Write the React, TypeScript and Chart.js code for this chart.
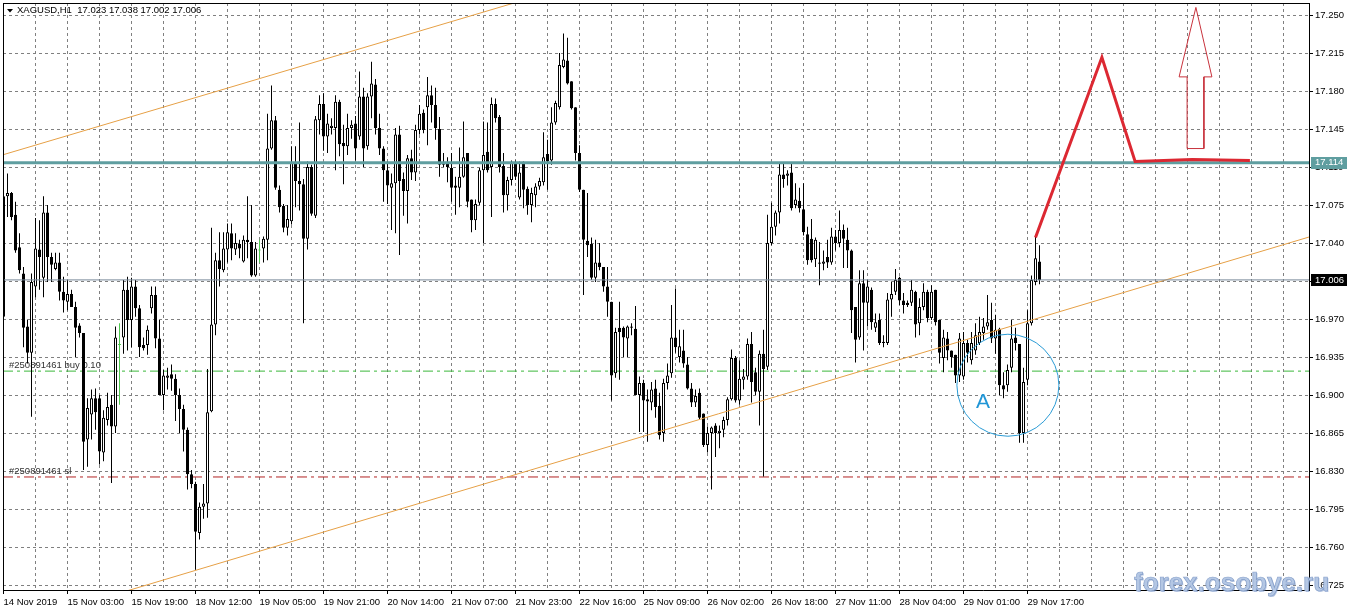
import React, { useEffect, useRef } from 'react';
import { Chart, registerables } from 'chart.js';

Chart.register(...registerables);

// ---------- data ----------
const symbol = 'XAGUSD';
const timeframe = 'H1';

const xLabels = [
  '14 Nov 2019', '15 Nov 03:00', '15 Nov 19:00', '18 Nov 12:00', '19 Nov 05:00',
  '19 Nov 21:00', '20 Nov 14:00', '21 Nov 07:00', '21 Nov 23:00', '22 Nov 16:00',
  '25 Nov 09:00', '26 Nov 02:00', '26 Nov 18:00', '27 Nov 11:00', '28 Nov 04:00',
  '29 Nov 01:00', '29 Nov 17:00',
];

const yTicks = [
  17.25, 17.215, 17.18, 17.145, 17.11, 17.075, 17.04, 17.005,
  16.97, 16.935, 16.9, 16.865, 16.83, 16.795, 16.76, 16.725,
];

const opens = [
  16.972, 17.083, 17.086, 17.066, 17.036, 17.012, 16.963, 16.939, 17.000, 17.034,
  17.008, 17.068, 17.027, 17.016, 17.022, 16.995, 16.986, 16.993, 16.981, 16.964,
  16.957, 16.859, 16.882, 16.897, 16.897, 16.847, 16.877, 16.891, 16.871, 16.946,
  16.953, 16.997, 16.969, 17.000, 16.980, 16.946, 16.946, 16.980, 16.992, 16.952,
  16.900, 16.916, 16.919, 16.915, 16.900, 16.887, 16.868, 16.827, 16.818, 16.773,
  16.797, 16.800, 16.885, 16.965, 17.024, 17.015, 17.034, 17.049, 17.034, 17.039,
  17.023, 17.043, 17.041, 17.010, 17.033, 17.035, 17.043, 17.127, 17.153, 17.089,
  17.074, 17.054, 17.060, 17.114, 17.097, 17.094, 17.044, 17.110, 17.065, 17.153,
  17.168, 17.138, 17.146, 17.146, 17.170, 17.132, 17.129, 17.146, 17.150, 17.138,
  17.175, 17.129, 17.175, 17.186, 17.146, 17.127, 17.107, 17.091, 17.095, 17.140,
  17.099, 17.088, 17.118, 17.105, 17.144, 17.160, 17.165, 17.176, 17.167, 17.145,
  17.114, 17.114, 17.109, 17.093, 17.091, 17.101, 17.123, 17.080, 17.061, 17.077,
  17.107, 17.124, 17.110, 17.168, 17.156, 17.111, 17.084, 17.098, 17.114, 17.082,
  17.114, 17.090, 17.075, 17.084, 17.092, 17.096, 17.122, 17.116, 17.151, 17.165,
  17.202, 17.208, 17.189, 17.165, 17.123, 17.089, 17.042, 17.039, 17.008, 17.022,
  17.018, 17.000, 16.986, 16.920, 16.962, 16.962, 16.952, 16.963, 16.961, 16.900,
  16.911, 16.896, 16.893, 16.906, 16.890, 16.865, 16.911, 16.920, 16.953, 16.935,
  16.941, 16.928, 16.906, 16.893, 16.902, 16.883, 16.854, 16.865, 16.872, 16.865,
  16.868, 16.877, 16.896, 16.934, 16.895, 16.914, 16.917, 16.947, 16.921, 16.903,
  16.938, 16.926, 17.040, 17.055, 17.068, 17.103, 17.102, 17.105, 17.075, 17.079,
  17.071, 17.048, 17.044, 17.025, 17.022, 17.021, 17.027, 17.022, 17.046, 17.040,
  17.052, 17.043, 17.033, 16.981, 16.953, 17.003, 16.985, 16.997, 16.962, 16.969,
  16.949, 16.948, 16.988, 16.995, 17.008, 16.987, 16.985, 16.985, 16.995, 16.966,
  16.981, 16.995, 16.971, 16.997, 16.969, 16.934, 16.952, 16.941, 16.937, 16.918,
  16.917, 16.948, 16.932, 16.941, 16.948, 16.957, 16.963, 16.969, 16.952, 16.961,
  16.909, 16.909, 16.925, 16.953, 16.947, 16.865, 16.914, 16.966, 17.004, 17.023,
];

const highs = [
  17.104, 17.104, 17.087, 17.078, 17.049, 17.018, 16.969, 17.012, 17.063, 17.061,
  17.083, 17.075, 17.031, 17.031, 17.031, 17.009, 17.006, 16.997, 16.986, 16.966,
  16.957, 16.897, 16.905, 16.906, 16.900, 16.886, 16.902, 16.900, 16.963, 16.966,
  17.006, 17.009, 17.008, 17.006, 16.983, 16.953, 16.964, 17.000, 17.000, 16.969,
  16.923, 16.925, 16.928, 16.919, 16.906, 16.891, 16.870, 16.831, 16.820, 16.801,
  16.818, 16.924, 17.054, 17.031, 17.050, 17.050, 17.058, 17.058, 17.049, 17.043,
  17.047, 17.083, 17.075, 17.041, 17.043, 17.046, 17.159, 17.185, 17.157, 17.093,
  17.076, 17.075, 17.129, 17.129, 17.151, 17.099, 17.115, 17.112, 17.157, 17.176,
  17.178, 17.159, 17.155, 17.176, 17.172, 17.149, 17.159, 17.153, 17.157, 17.198,
  17.183, 17.178, 17.207, 17.191, 17.159, 17.129, 17.115, 17.104, 17.146, 17.148,
  17.105, 17.121, 17.126, 17.149, 17.167, 17.163, 17.193, 17.185, 17.183, 17.156,
  17.123, 17.119, 17.123, 17.101, 17.128, 17.152, 17.123, 17.080, 17.080, 17.109,
  17.152, 17.151, 17.174, 17.173, 17.158, 17.123, 17.101, 17.116, 17.116, 17.115,
  17.115, 17.092, 17.091, 17.095, 17.100, 17.142, 17.135, 17.165, 17.171, 17.215,
  17.233, 17.229, 17.189, 17.165, 17.130, 17.089, 17.086, 17.045, 17.043, 17.040,
  17.018, 17.018, 16.986, 16.962, 16.986, 16.963, 16.964, 16.966, 16.982, 16.917,
  16.914, 16.905, 16.912, 16.914, 16.902, 16.915, 16.929, 16.983, 16.998, 16.960,
  16.960, 16.935, 16.911, 16.905, 16.906, 16.883, 16.871, 16.871, 16.874, 16.872,
  16.880, 16.898, 16.942, 16.936, 16.932, 16.924, 16.952, 16.958, 16.925, 16.941,
  16.960, 17.066, 17.077, 17.070, 17.114, 17.114, 17.107, 17.114, 17.095, 17.091,
  17.095, 17.055, 17.062, 17.045, 17.041, 17.033, 17.043, 17.054, 17.052, 17.070,
  17.057, 17.054, 17.034, 16.981, 17.015, 17.015, 17.006, 16.999, 16.975, 16.975,
  16.955, 16.994, 17.004, 17.016, 17.009, 16.994, 16.987, 17.006, 16.996, 16.989,
  17.003, 16.997, 17.001, 16.997, 16.969, 16.960, 16.958, 16.941, 16.937, 16.957,
  16.958, 16.951, 16.958, 16.966, 16.972, 16.971, 16.992, 16.985, 16.974, 16.962,
  16.921, 16.928, 16.969, 16.962, 16.947, 16.925, 16.978, 17.010, 17.046, 17.038,
];

const lows = [
  16.969, 17.064, 17.061, 17.031, 17.012, 16.944, 16.929, 16.880, 16.990, 16.997,
  16.990, 17.004, 17.004, 17.015, 16.987, 16.976, 16.978, 16.981, 16.935, 16.953,
  16.831, 16.834, 16.859, 16.868, 16.836, 16.839, 16.872, 16.819, 16.865, 16.891,
  16.938, 16.941, 16.944, 16.972, 16.935, 16.941, 16.937, 16.975, 16.943, 16.900,
  16.886, 16.905, 16.904, 16.876, 16.865, 16.848, 16.813, 16.814, 16.739, 16.767,
  16.786, 16.787, 16.884, 16.955, 17.000, 17.013, 17.022, 17.024, 17.029, 17.026,
  17.022, 17.026, 17.009, 17.009, 17.022, 17.022, 17.024, 17.126, 17.089, 17.068,
  17.050, 17.047, 17.057, 17.073, 17.070, 16.966, 17.034, 17.065, 17.063, 17.140,
  17.125, 17.123, 17.140, 17.107, 17.120, 17.094, 17.121, 17.136, 17.116, 17.135,
  17.110, 17.126, 17.155, 17.140, 17.121, 17.078, 17.076, 17.052, 17.049, 17.029,
  17.065, 17.058, 17.098, 17.097, 17.140, 17.141, 17.130, 17.151, 17.135, 17.101,
  17.110, 17.096, 17.078, 17.066, 17.073, 17.100, 17.073, 17.050, 17.052, 17.075,
  17.040, 17.105, 17.064, 17.151, 17.105, 17.068, 17.070, 17.093, 17.098, 17.080,
  17.072, 17.066, 17.059, 17.073, 17.089, 17.093, 17.089, 17.112, 17.149, 17.163,
  17.201, 17.186, 17.163, 17.116, 17.087, 16.992, 17.027, 17.006, 17.004, 17.015,
  16.995, 16.972, 16.895, 16.916, 16.914, 16.935, 16.935, 16.955, 16.900, 16.866,
  16.866, 16.857, 16.886, 16.879, 16.859, 16.857, 16.905, 16.916, 16.939, 16.930,
  16.925, 16.905, 16.889, 16.889, 16.877, 16.852, 16.847, 16.813, 16.843, 16.851,
  16.861, 16.872, 16.895, 16.893, 16.891, 16.905, 16.914, 16.893, 16.900, 16.872,
  16.825, 16.923, 17.038, 17.047, 17.058, 17.091, 17.093, 17.070, 17.072, 17.068,
  17.047, 17.020, 17.022, 17.018, 17.001, 17.015, 17.017, 17.020, 17.033, 17.036,
  17.017, 17.017, 16.957, 16.930, 16.951, 16.941, 16.963, 16.960, 16.958, 16.946,
  16.944, 16.946, 16.972, 16.992, 16.983, 16.975, 16.981, 16.982, 16.953, 16.955,
  16.978, 16.967, 16.969, 16.964, 16.929, 16.921, 16.932, 16.925, 16.911, 16.912,
  16.914, 16.930, 16.928, 16.937, 16.946, 16.951, 16.960, 16.948, 16.938, 16.900,
  16.897, 16.903, 16.921, 16.941, 16.856, 16.856, 16.909, 16.964, 17.001, 17.002,
];

const closes = [
  17.083, 17.086, 17.064, 17.033, 17.015, 16.962, 16.939, 17.004, 17.035, 17.027,
  17.068, 17.027, 17.020, 17.022, 16.995, 16.987, 16.993, 16.981, 16.962, 16.957,
  16.857, 16.888, 16.897, 16.884, 16.848, 16.879, 16.889, 16.871, 16.953, 16.946,
  16.997, 16.969, 17.000, 16.980, 16.944, 16.943, 16.960, 16.992, 16.952, 16.900,
  16.918, 16.918, 16.915, 16.900, 16.887, 16.868, 16.827, 16.818, 16.774, 16.797,
  16.800, 16.884, 16.965, 17.024, 17.016, 17.035, 17.050, 17.035, 17.040, 17.035,
  17.043, 17.041, 17.010, 17.035, 17.033, 17.044, 17.127, 17.153, 17.091, 17.073,
  17.054, 17.062, 17.114, 17.097, 17.094, 17.044, 17.110, 17.067, 17.154, 17.168,
  17.138, 17.150, 17.148, 17.170, 17.131, 17.129, 17.146, 17.149, 17.127, 17.175,
  17.127, 17.175, 17.187, 17.146, 17.127, 17.107, 17.093, 17.095, 17.140, 17.097,
  17.088, 17.118, 17.105, 17.144, 17.159, 17.144, 17.176, 17.167, 17.146, 17.112,
  17.112, 17.110, 17.091, 17.091, 17.101, 17.119, 17.078, 17.061, 17.076, 17.107,
  17.121, 17.107, 17.168, 17.155, 17.110, 17.084, 17.098, 17.114, 17.101, 17.105,
  17.089, 17.075, 17.086, 17.092, 17.097, 17.119, 17.115, 17.151, 17.169, 17.204,
  17.209, 17.187, 17.164, 17.123, 17.089, 17.043, 17.038, 17.008, 17.022, 17.018,
  17.000, 16.986, 16.918, 16.958, 16.958, 16.953, 16.963, 16.962, 16.900, 16.911,
  16.895, 16.894, 16.905, 16.889, 16.863, 16.911, 16.918, 16.953, 16.944, 16.945,
  16.929, 16.906, 16.893, 16.899, 16.879, 16.854, 16.865, 16.870, 16.865, 16.867,
  16.877, 16.896, 16.934, 16.895, 16.915, 16.917, 16.947, 16.912, 16.903, 16.938,
  16.924, 17.040, 17.055, 17.068, 17.103, 17.099, 17.104, 17.072, 17.080, 17.072,
  17.050, 17.024, 17.024, 17.043, 17.021, 17.023, 17.022, 17.046, 17.040, 17.052,
  17.044, 17.033, 16.978, 16.951, 17.003, 16.985, 17.000, 16.967, 16.967, 16.948,
  16.948, 16.988, 16.993, 17.006, 16.987, 16.983, 16.983, 16.997, 16.965, 16.981,
  16.995, 16.971, 16.995, 16.967, 16.939, 16.953, 16.941, 16.935, 16.918, 16.952,
  16.948, 16.939, 16.948, 16.955, 16.958, 16.963, 16.967, 16.952, 16.960, 16.909,
  16.905, 16.923, 16.952, 16.948, 16.865, 16.912, 16.966, 17.006, 17.026, 17.006,
];

// horizontal levels
const levelResistance = 17.114;
const levelBid = 17.006;
const levelBuy = 16.922;
const levelStop = 16.8245;
const buyLabel = '#250891461 buy 0.10';
const stopLabel = '#250891461 sl';

// trend channel (bar index, price)
const upperChannel = [{ x: -1, y: 17.1203 }, { x: 140, y: 17.2746 }];
const lowerChannel = [{ x: 25, y: 16.7131 }, { x: 330, y: 17.0495 }];

// drawn forecast path and arrow
const forecastPath = [
  { x: 258, y: 17.045 }, { x: 274.6, y: 17.211 }, { x: 282.9, y: 17.115 },
  { x: 297.2, y: 17.117 }, { x: 311.6, y: 17.116 },
];
const arrowOutline = [
  { x: 298.1, y: 17.257 }, { x: 302.1, y: 17.193 }, { x: 300.1, y: 17.193 },
  { x: 300.1, y: 17.127 }, { x: 295.9, y: 17.127 }, { x: 295.9, y: 17.193 },
  { x: 293.9, y: 17.193 }, { x: 298.1, y: 17.257 },
];
const circleA = [{ x: 251.1, y: 16.909, r: 51 }];
const labelA = { x: 244.9, y: 16.893, text: 'A' };
const watermark = 'forex.osobye.ru';

// ---------- styling ----------
const FONT = '"Liberation Sans", Arial, sans-serif';
const X_MIN = -0.125;
const X_MAX = 326.375;
const Y_MIN = 16.720395;
const Y_MAX = 17.261053;
const GRID = '#808080';
const DOJI = '#50c850';

const idx = opens.map((_, i) => i);

function candleFill(i: number) {
  if (closes[i] > opens[i]) return '#ffffff';
  if (closes[i] < opens[i]) return '#000000';
  return DOJI;
}
function candleLine(i: number) {
  return closes[i] === opens[i] ? DOJI : '#000000';
}

const hLine = (y: number) => [{ x: X_MIN, y }, { x: X_MAX, y }];

const overlayPlugin = {
  id: 'overlay',
  beforeDatasetsDraw(chart: any) {
    const { ctx, chartArea, scales } = chart;
    const y = scales.y;
    ctx.save();
    ctx.font = `9.5px ${FONT}`;
    ctx.fillStyle = '#333333';
    ctx.textAlign = 'left';
    ctx.textBaseline = 'middle';
    ctx.fillText(buyLabel, chartArea.left + 6, y.getPixelForValue(levelBuy) - 6);
    ctx.fillText(stopLabel, chartArea.left + 6, y.getPixelForValue(levelStop) - 6);
    ctx.restore();
  },
  afterDatasetsDraw(chart: any) {
    const { ctx, scales } = chart;
    ctx.save();
    ctx.font = `21px ${FONT}`;
    ctx.fillStyle = '#2196d6';
    ctx.textAlign = 'center';
    ctx.textBaseline = 'middle';
    ctx.fillText(labelA.text, scales.x.getPixelForValue(labelA.x), scales.y.getPixelForValue(labelA.y));
    ctx.restore();
  },
  afterDraw(chart: any) {
    const { ctx, chartArea, scales } = chart;
    const y = scales.y;
    ctx.save();
    // top and left frame
    ctx.fillStyle = '#000';
    ctx.fillRect(chartArea.left, chartArea.top, chartArea.right - chartArea.left, 1);
    ctx.fillRect(chartArea.left, chartArea.top, 1, chartArea.bottom - chartArea.top);

    // header
    const last = closes.length - 1;
    ctx.beginPath();
    ctx.moveTo(7, 9);
    ctx.lineTo(13, 9);
    ctx.lineTo(10, 12.5);
    ctx.closePath();
    ctx.fill();
    ctx.font = `9.5px ${FONT}`;
    ctx.textAlign = 'left';
    ctx.textBaseline = 'middle';
    ctx.fillText(
      `${symbol},${timeframe}  ${opens[last].toFixed(3)} ${highs[last].toFixed(3)} ${lows[last].toFixed(3)} ${closes[last].toFixed(3)}`,
      17, 10.5,
    );

    // price boxes on axis
    const box = (v: number, bg: string) => {
      const py = y.getPixelForValue(v);
      ctx.fillStyle = bg;
      ctx.fillRect(chartArea.right + 2, Math.round(py) - 6, 36, 12);
      ctx.fillStyle = '#ffffff';
      ctx.fillText(v.toFixed(3), chartArea.right + 6, py);
    };
    box(levelResistance, '#5f9ea0');
    box(levelBid, '#000000');

    // watermark
    ctx.font = `bold 26px ${FONT}`;
    ctx.textBaseline = 'alphabetic';
    ctx.fillStyle = 'rgba(120,150,200,0.55)';
    ctx.fillText(watermark, 1135, 592);
    ctx.fillStyle = '#b4c7e4';
    ctx.fillText(watermark, 1134, 591);
    ctx.strokeStyle = 'rgba(110,140,190,0.7)';
    ctx.lineWidth = 0.7;
    ctx.strokeText(watermark, 1134, 591);
    ctx.restore();
  },
};

export default function App() {
  const ref = useRef<HTMLCanvasElement>(null);

  useEffect(() => {
    const canvas = ref.current;
    if (!canvas) return;

    const lineDs = (data: any[], color: string, width: number, order: number, dash: number[] = []) => ({
      type: 'line' as const,
      data,
      borderColor: color,
      borderWidth: width,
      borderDash: dash,
      pointRadius: 0,
      pointHoverRadius: 0,
      tension: 0,
      fill: false,
      order,
    });

    const chart = new Chart(canvas, {
      type: 'bar',
      data: {
        datasets: [
          lineDs(arrowOutline, '#c8323c', 1, 1),
          lineDs(forecastPath, '#dc2832', 3, 2),
          {
            type: 'bubble',
            data: circleA,
            backgroundColor: 'rgba(0,0,0,0)',
            borderColor: '#2a9bd5',
            borderWidth: 1,
            order: 3,
          } as any,
          lineDs(hLine(levelResistance), '#5f9ea0', 3, 4),
          lineDs(hLine(levelBid), '#778899', 1, 5),
          lineDs(upperChannel, '#e6a046', 1, 6),
          lineDs(lowerChannel, '#e6a046', 1, 7),
          {
            type: 'bar',
            data: idx.map((i) => ({ x: i, y: [Math.min(opens[i], closes[i]), Math.max(opens[i], closes[i])] })),
            backgroundColor: idx.map(candleFill),
            borderColor: idx.map(candleLine),
            borderWidth: 1,
            borderSkipped: false,
            barThickness: 3,
            grouped: false,
            inflateAmount: 0,
            minBarLength: 1,
            order: 10,
          } as any,
          {
            type: 'bar',
            data: idx.map((i) => ({ x: i, y: [lows[i], highs[i]] })),
            backgroundColor: idx.map(candleLine),
            borderWidth: 0,
            barThickness: 1,
            grouped: false,
            inflateAmount: 0,
            minBarLength: 1,
            order: 11,
          } as any,
          lineDs(hLine(levelBuy), '#3cb83c', 1, 20, [10, 4, 3, 4]),
          lineDs(hLine(levelStop), '#b22222', 1, 21, [10, 4, 3, 4]),
        ] as any,
      },
      options: {
        animation: false,
        responsive: false,
        maintainAspectRatio: false,
        devicePixelRatio: 1,
        events: [],
        layout: { padding: { left: 3, top: 3, right: 0, bottom: 0 }, autoPadding: false },
        plugins: {
          legend: { display: false },
          tooltip: { enabled: false },
          title: { display: false },
        },
        scales: {
          x: {
            type: 'linear',
            min: X_MIN,
            max: X_MAX,
            offset: false,
            bounds: 'data',
            grid: {
              color: GRID,
              lineWidth: 1,
              offset: false,
              drawTicks: true,
              tickLength: 4,
              tickColor: (ctx: any) => {
                const v = ctx.tick ? ctx.tick.value : -1;
                return v % 16 === 0 && v / 16 < xLabels.length ? '#000' : 'rgba(0,0,0,0)';
              },
            },
            border: { display: true, color: '#000', width: 1, dash: [3, 3] },
            ticks: {
              autoSkip: false,
              maxRotation: 0,
              minRotation: 0,
              align: 'start',
              padding: 3,
              color: '#000',
              font: { family: FONT, size: 9.5 },
              callback: (v: any) => {
                const n = Number(v);
                return n % 16 === 0 && n / 16 < xLabels.length ? xLabels[n / 16] : '';
              },
            },
            afterBuildTicks: (scale: any) => {
              const t = [];
              for (let v = 0; v <= X_MAX; v += 8) t.push({ value: v });
              scale.ticks = t;
            },
            afterFit: (scale: any) => {
              scale.height = 21;
              scale.paddingLeft = 0;
              scale.paddingRight = 0;
              scale.paddingTop = 0;
              scale.paddingBottom = 0;
            },
          },
          y: {
            type: 'linear',
            position: 'right',
            min: Y_MIN,
            max: Y_MAX,
            bounds: 'data',
            grid: { color: GRID, lineWidth: 1, drawTicks: true, tickLength: 4, tickColor: '#000' },
            border: { display: true, color: '#000', width: 1, dash: [3, 3] },
            ticks: {
              padding: 2,
              color: '#000',
              font: { family: FONT, size: 9.5 },
              callback: (v: any) => Number(v).toFixed(3),
            },
            afterBuildTicks: (scale: any) => {
              scale.ticks = yTicks.map((v) => ({ value: v }));
            },
            afterFit: (scale: any) => {
              scale.width = 41;
              scale.paddingLeft = 0;
              scale.paddingRight = 0;
              scale.paddingTop = 0;
              scale.paddingBottom = 0;
            },
          },
        },
      } as any,
      plugins: [overlayPlugin],
    });

    return () => chart.destroy();
  }, []);

  return (
    <div style={{ position: 'fixed', left: 0, top: 0, width: 1350, height: 611, background: '#ffffff' }}>
      <canvas ref={ref} width={1350} height={611} style={{ display: 'block', width: '1350px', height: '611px' }} />
    </div>
  );
}
